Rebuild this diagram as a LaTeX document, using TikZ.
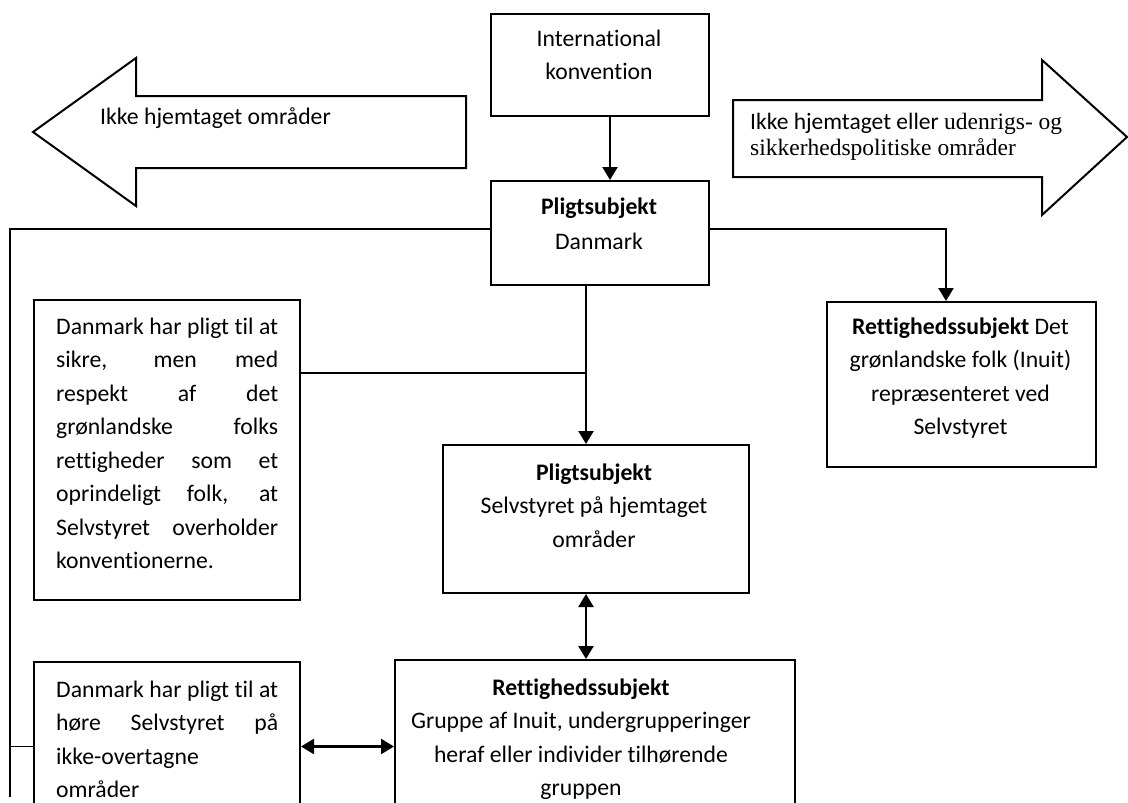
\documentclass[tikz,border=0pt]{standalone}
\usepackage{fontspec}
\setmainfont{Carlito}[Ligatures=NoCommon]
\newfontfamily\tnr{Liberation Serif}
\usetikzlibrary{arrows.meta,calc}
\newcommand\stA{\rule{0pt}{18pt}}
\newcommand\jl[1]{\makebox[222pt][s]{#1}}
\tikzset{
  box/.style={draw, line width=2pt, inner sep=0pt, anchor=north west},
  txt/.style={inner sep=0pt, anchor=north, align=center, font=\fontsize{23.7}{33.5}\selectfont},
  ltxt/.style={inner sep=0pt, anchor=north west, align=left, font=\fontsize{23.7}{33.5}\selectfont},
  stxt/.style={inner sep=0pt, anchor=north west, align=left, font=\fontsize{23.5}{26.5}\selectfont},
  mytip/.tip={Triangle[width=15pt,length=13pt]},
  arr/.style={line width=2.4pt, -{mytip}},
  darr/.style={line width=2.4pt, {mytip}-{mytip}},
  conn/.style={line width=1.6pt},
  blockarrow/.style={draw, line width=2pt, fill=white, line join=miter}
}
\begin{document}
\begin{tikzpicture}[x=1pt,y=-1pt]
\useasboundingbox (0,0) rectangle (1128,803);
\clip (0,0) rectangle (1128,803);
\fill[white] (0,0) rectangle (1128,803);

% block arrows
\draw[blockarrow] (33,132) -- (136,58) -- (136,96) -- (466,96) -- (466,168) -- (136,168) -- (136,206) -- cycle;
\node[ltxt] (lefttext) at (100,106) {\stA Ikke hjemtaget områder};
\draw[blockarrow] (733,100) -- (1042,100) -- (1042,60) -- (1127,137) -- (1042,215) -- (1042,177) -- (733,177) -- cycle;
\node[stxt] (righttext) at (750,111) {\stA Ikke hjemtaget eller {\tnr udenrigs- og}\\{\tnr sikkerhedspolitiske områder}};

% boxes
\node[box, minimum width=218pt, minimum height=102pt] (int) at (490,13) {};
\node[box, minimum width=218pt, minimum height=104pt] (dk) at (490,180) {};
\node[box, minimum width=269pt, minimum height=165pt] (rs) at (826,301) {};
\node[box, minimum width=306pt, minimum height=148pt] (sv) at (442,444) {};
\node[box, minimum width=400pt, minimum height=200pt] (rb) at (394,659) {};
\node[box, minimum width=266pt, minimum height=300pt] (lb1) at (33,299) {};
\node[box, minimum width=266pt, minimum height=200pt] (lb2) at (33,661) {};

% texts
\node[txt] (intT) at (599,28) {\stA International\\konvention};
\node[txt] (dkT) at (599,196) {\stA\textbf{Pligtsubjekt}\\[1.5pt]Danmark};
\node[txt] (rsT) at (960.5,316) {\stA\textbf{Rettighedssubjekt} Det\\grønlandske folk (Inuit)\\repræsenteret ved\\Selvstyret};
\node[txt] (svT) at (594,462) {\stA\textbf{Pligtsubjekt}\\Selvstyret på hjemtaget\\områder};
\node[txt] (rbT) at (581,677) {\stA\textbf{Rettighedssubjekt}\\Gruppe af Inuit, undergrupperinger\\heraf eller individer tilhørende\\gruppen};
\node[ltxt] (lb1T) at (56,316) {\stA\jl{Danmark har pligt til at}\\\jl{sikre, men med}\\\jl{respekt af det}\\\jl{grønlandske folks}\\\jl{rettigheder som et}\\\jl{oprindeligt folk, at}\\\jl{Selvstyret overholder}\\konventionerne.};
\node[ltxt] (lb2T) at (56,679) {\stA\jl{Danmark har pligt til at}\\\jl{høre Selvstyret på}\\ikke-overtagne\\områder};

% connectors
\draw[arr] ($(int.south west)+(120,0)$) -- ($(dk.north west)+(120,0)$);
\draw[arr] ($(dk.south west)+(96,0)$) -- ($(sv.north west)+(144,0)$);
\coordinate (j1) at (586,373);
\draw[conn] (lb1.east |- j1) -- (j1);
\coordinate (L1) at (10,229);
\coordinate (L2) at (10,797);
\coordinate (L3) at (10,746.5);
\draw[conn] (dk.west |- L1) -- (L1) -- (L2);
\draw[conn] (L3) -- (lb2.west |- L3);
\coordinate (R1) at (946,229);
\draw[arr] (dk.east |- R1) -- (R1) -- ($(rs.north west)+(120,0)$);
\draw[darr] ($(sv.south west)+(144,0)$) -- ($(rb.north west)+(192,0)$);
\draw[darr] (lb2.east |- L3) -- (rb.west |- L3);
\end{tikzpicture}
\end{document}
